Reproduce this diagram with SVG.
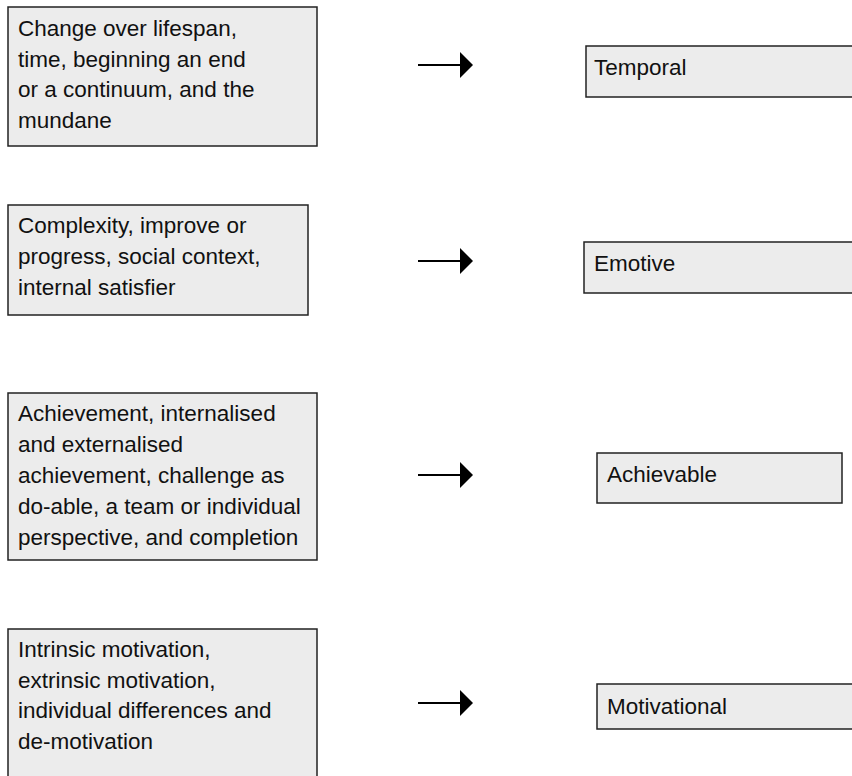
<svg xmlns="http://www.w3.org/2000/svg" width="852" height="776" viewBox="0 0 852 776">
<style>
.box{fill:#ececec;stroke:#222;stroke-width:1.5}
.t{font-family:"Liberation Sans",Arial,sans-serif;font-size:22.5px;fill:#111}
.ln{stroke:#000;stroke-width:2}
.hd{fill:#000}
</style>
<rect width="852" height="776" fill="#fff"/>
<g id="n1">
<rect class="box" x="8" y="7" width="309" height="139"/>
<text class="t" x="18" y="36">Change over lifespan,</text>
<text class="t" x="18" y="66.5">time, beginning an end</text>
<text class="t" x="18" y="97">or a continuum, and the</text>
<text class="t" x="18" y="127.5">mundane</text>
</g>
<g id="n2">
<rect class="box" x="8" y="205" width="300" height="110"/>
<text class="t" x="18" y="233">Complexity, improve or</text>
<text class="t" x="18" y="264">progress, social context,</text>
<text class="t" x="18" y="295">internal satisfier</text>
</g>
<g id="n3">
<rect class="box" x="8" y="393" width="309" height="167"/>
<text class="t" x="18" y="421">Achievement, internalised</text>
<text class="t" x="18" y="452">and externalised</text>
<text class="t" x="18" y="483">achievement, challenge as</text>
<text class="t" x="18" y="514">do-able, a team or individual</text>
<text class="t" x="18" y="545">perspective, and completion</text>
</g>
<g id="n4">
<rect class="box" x="8" y="629" width="309" height="160"/>
<text class="t" x="18" y="657">Intrinsic motivation,</text>
<text class="t" x="18" y="687.5">extrinsic motivation,</text>
<text class="t" x="18" y="718">individual differences and</text>
<text class="t" x="18" y="748.5">de-motivation</text>
</g>
<g id="n5">
<rect class="box" x="586" y="46" width="280" height="51"/>
<text class="t" x="594" y="75">Temporal</text>
</g>
<g id="n6">
<rect class="box" x="584" y="242" width="280" height="51"/>
<text class="t" x="594" y="271">Emotive</text>
</g>
<g id="n7">
<rect class="box" x="597" y="453" width="245" height="50"/>
<text class="t" x="607" y="482">Achievable</text>
</g>
<g id="n8">
<rect class="box" x="597" y="684" width="270" height="45"/>
<text class="t" x="607" y="714">Motivational</text>
</g>
<g id="connectors">
<line class="ln" x1="418" y1="65" x2="461" y2="65"/>
<polygon class="hd" points="460,52 473,65 460,78"/>
<line class="ln" x1="418" y1="261" x2="461" y2="261"/>
<polygon class="hd" points="460,248 473,261 460,274"/>
<line class="ln" x1="418" y1="475" x2="461" y2="475"/>
<polygon class="hd" points="460,462 473,475 460,488"/>
<line class="ln" x1="418" y1="703" x2="461" y2="703"/>
<polygon class="hd" points="460,690 473,703 460,716"/>
</g>
</svg>
